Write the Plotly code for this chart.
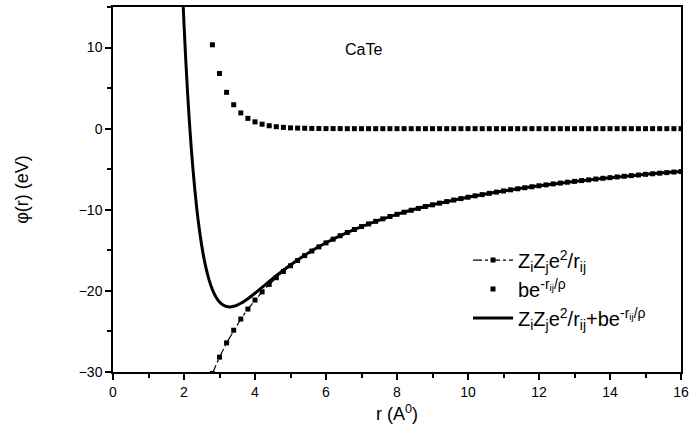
import plotly.graph_objects as go

# Radial grid (Angstrom) used for the two component terms
r_terms = [2.8, 3.0, 3.2, 3.4, 3.6, 3.8, 4.0, 4.2, 4.4, 4.6, 4.8, 5.0, 5.2, 5.4, 5.6, 5.8,
           6.0, 6.2, 6.4, 6.6, 6.8, 7.0, 7.2, 7.4, 7.6, 7.8, 8.0, 8.2, 8.4, 8.6, 8.8, 9.0,
           9.2, 9.4, 9.6, 9.8, 10.0, 10.2, 10.4, 10.6, 10.8, 11.0, 11.2, 11.4, 11.6, 11.8,
           12.0, 12.2, 12.4, 12.6, 12.8, 13.0, 13.2, 13.4, 13.6, 13.8, 14.0, 14.2, 14.4,
           14.6, 14.8, 15.0, 15.2, 15.4, 15.6, 15.8, 16.0]

# Coulomb term Z_i Z_j e^2 / r_ij (eV)
coulomb = [-30.18, -28.17, -26.41, -24.85, -23.47, -22.24, -21.13, -20.12, -19.20, -18.37,
           -17.60, -16.90, -16.25, -15.65, -15.09, -14.57, -14.08, -13.63, -13.20, -12.80,
           -12.43, -12.07, -11.74, -11.42, -11.12, -10.83, -10.56, -10.30, -10.06, -9.83,
           -9.60, -9.39, -9.18, -8.99, -8.80, -8.62, -8.45, -8.28, -8.13, -7.97, -7.82,
           -7.68, -7.54, -7.41, -7.28, -7.16, -7.04, -6.93, -6.81, -6.71, -6.60, -6.50,
           -6.40, -6.31, -6.21, -6.12, -6.04, -5.95, -5.87, -5.79, -5.71, -5.63, -5.56,
           -5.49, -5.42, -5.35, -5.28]

# Born-Mayer repulsion b exp(-r_ij/rho) (eV)
repulsion = [10.34, 6.80, 4.48, 2.95, 1.94, 1.27, 0.84, 0.55, 0.36, 0.24, 0.16, 0.10, 0.07,
             0.05, 0.03, 0.02, 0.01, 0.01, 0.01, 0.0, 0.0, 0.0, 0.0, 0.0, 0.0, 0.0, 0.0,
             0.0, 0.0, 0.0, 0.0, 0.0, 0.0, 0.0, 0.0, 0.0, 0.0, 0.0, 0.0, 0.0, 0.0, 0.0,
             0.0, 0.0, 0.0, 0.0, 0.0, 0.0, 0.0, 0.0, 0.0, 0.0, 0.0, 0.0, 0.0, 0.0, 0.0,
             0.0, 0.0, 0.0, 0.0, 0.0, 0.0, 0.0, 0.0, 0.0, 0.0]

# Total pair potential on a finer grid near the repulsive wall
r_total = [1.90, 1.95, 2.00, 2.05, 2.10, 2.15, 2.20, 2.25, 2.30, 2.35, 2.40, 2.50, 2.60,
           2.70, 2.80, 2.90, 3.00, 3.10, 3.20, 3.30, 3.40, 3.50, 3.60, 3.70, 3.80, 4.00,
           4.20, 4.40, 4.60, 4.80, 5.00, 5.50, 6.0, 6.5, 7.0, 8.0, 9.0, 10.0, 11.0, 12.0,
           13.0, 14.0, 15.0, 16.0]
total = [23.50, 17.87, 12.89, 8.43, 4.46, 0.98, -2.14, -4.88, -7.31, -9.46, -11.33, -14.43,
         -16.79, -18.55, -19.84, -20.75, -21.37, -21.74, -21.93, -21.98, -21.90, -21.75,
         -21.53, -21.27, -20.97, -20.29, -19.57, -18.84, -18.13, -17.44, -16.80, -15.32,
         -14.07, -13.00, -12.07, -10.56, -9.39, -8.45, -7.68, -7.04, -6.50, -6.04, -5.63,
         -5.28]

x_ticks = [0, 2, 4, 6, 8, 10, 12, 14, 16]
y_ticks = [-30, -20, -10, 0, 10]

FONT = "Liberation Sans, Arial, sans-serif"

# exponent of the repulsive term, with the ij index nested inside the superscript
EXP = "<sup>-r<sub><span style=\"color:black\">ij</span></sub>/ρ</sup>"

fig = go.Figure()

fig.add_trace(go.Scatter(
    x=r_terms, y=coulomb, mode="lines+markers",
    name="Z<sub>i</sub>Z<sub>j</sub>e<sup>2</sup>/r<sub>ij</sub>",
    line=dict(color="black", width=1.2, dash="dashdot"),
    marker=dict(symbol="square", size=5, color="black"),
))

fig.add_trace(go.Scatter(
    x=r_terms, y=repulsion, mode="markers",
    name="be" + EXP,
    marker=dict(symbol="square", size=5, color="black"),
))

fig.add_trace(go.Scatter(
    x=r_total, y=total, mode="lines",
    name="Z<sub>i</sub>Z<sub>j</sub>e<sup>2</sup>/r<sub>ij</sub>+be" + EXP,
    line=dict(color="black", width=3, shape="spline"),
))

fig.add_annotation(
    x=7.05, y=9.8, xref="x", yref="y", text="CaTe", showarrow=False,
    font=dict(family=FONT, size=16, color="black"),
)

axis_common = dict(
    showgrid=False, zeroline=False, showline=True, linecolor="black", linewidth=1.5,
    mirror=True, ticks="outside", ticklen=6, tickwidth=1.5, tickcolor="black",
    tickfont=dict(family=FONT, size=14, color="black"),
)

fig.update_xaxes(
    range=[0, 16], tickvals=x_ticks,
    minor=dict(dtick=1, tick0=0, ticks="outside", ticklen=4, tickwidth=1.5, tickcolor="black"),
    title=dict(text="r (A<sup>0</sup>)", font=dict(family=FONT, size=18, color="black"), standoff=9),
    **axis_common,
)
fig.update_yaxes(
    range=[-30, 15], tickvals=y_ticks,
    minor=dict(dtick=5, tick0=0, ticks="outside", ticklen=4, tickwidth=1.5, tickcolor="black"),
    title=dict(text="φ(r) (eV)", font=dict(family=FONT, size=18, color="black"), standoff=45),
    **axis_common,
)

fig.update_layout(
    width=694, height=441,
    margin=dict(l=113, r=13, t=5, b=69),
    paper_bgcolor="white", plot_bgcolor="white",
    font=dict(family=FONT, color="black"),
    legend=dict(
        x=0.625, y=0.36, xanchor="left", yanchor="top",
        bgcolor="rgba(0,0,0,0)", font=dict(family=FONT, size=20, color="black"),
        itemwidth=40, tracegroupgap=0,
    ),
)

fig.write_html("out.html")
